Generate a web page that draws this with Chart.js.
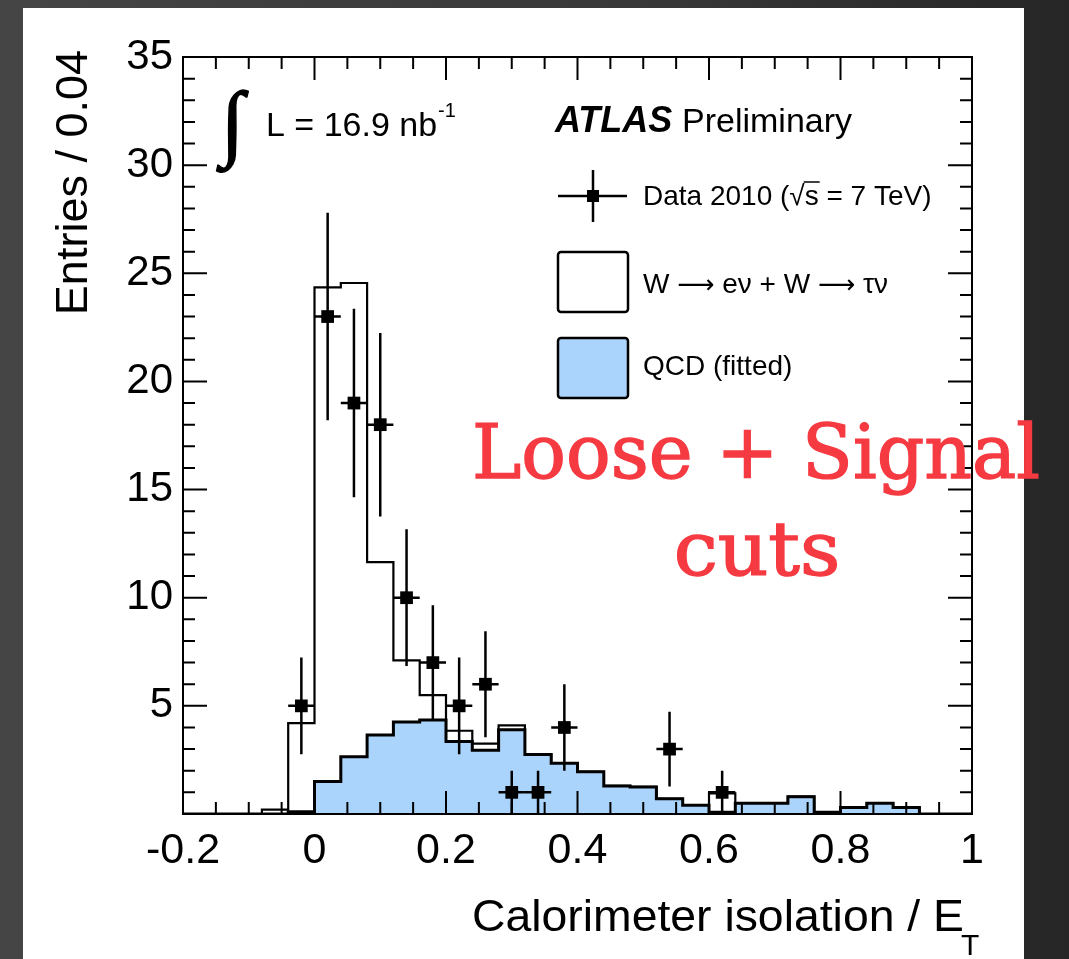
<!DOCTYPE html>
<html>
<head>
<meta charset="utf-8">
<script src="https://cdn.jsdelivr.net/npm/chart.js@4.4.1/dist/chart.umd.min.js"></script>
<style>
  html, body { margin: 0; padding: 0; }
  body {
    width: 1069px; height: 959px; position: relative; overflow: hidden;
    background: linear-gradient(90deg, #454545 0%, #383838 60%, #262626 100%);
  }
  #panel { position: absolute; left: 23px; top: 8px; width: 1001px; height: 951px; background: #fff; }
  #chart { position: absolute; left: 0; top: 0; }
</style>
</head>
<body>
<div id="panel"></div>
<canvas id="chart" width="1069" height="959"></canvas>
<script>
// histogram binning: calorimeter isolation / E_T, bins of 0.04
const binEdges = [-0.2, -0.16, -0.12, -0.08, -0.04, 0, 0.04, 0.08, 0.12, 0.16,
  0.2, 0.24, 0.28, 0.32, 0.36, 0.4, 0.44, 0.48, 0.52, 0.56,
  0.6, 0.64, 0.68, 0.72, 0.76, 0.8, 0.84, 0.88, 0.92, 0.96, 1.0];

// stacked total: W->enu + W->taunu + QCD
const totalMC = [0, 0, 0, 0.2, 4.2, 24.35, 24.55, 11.65, 7.1, 5.5,
  3.85, 3.25, 4.1, 2.75, 2.35, 1.95, 1.3, 1.25, 0.7, 0.4,
  0.95, 0.5, 0.5, 0.8, 0.08, 0.3, 0.5, 0.3, 0, 0];

// QCD (fitted)
const qcdFitted = [0, 0, 0, 0, 0.1, 1.5, 2.65, 3.65, 4.25, 4.35,
  3.35, 2.95, 3.9, 2.75, 2.35, 1.95, 1.3, 1.25, 0.7, 0.4,
  0.08, 0.5, 0.5, 0.8, 0.08, 0.3, 0.5, 0.3, 0, 0];

// Data 2010 (bin centres, entries, stat. error)
const dataX = [-0.02, 0.02, 0.06, 0.1, 0.14, 0.18, 0.22, 0.26, 0.3, 0.34, 0.38, 0.54, 0.62];
const dataY = [5, 23, 19, 18, 10, 7, 5, 6, 1, 1, 4, 3, 1];
const dataErr = [2.24, 4.8, 4.36, 4.24, 3.16, 2.65, 2.24, 2.45, 1, 1, 2, 1.73, 1];

const xTicks = [-0.2, 0, 0.2, 0.4, 0.6, 0.8, 1];
const yTicks = [5, 10, 15, 20, 25, 30, 35];

const halfBin = 0.02;
const qcdBlue = '#aad4fb';
const sans = 'Liberation Sans, Arial, sans-serif';
const arrowFont = '26px DejaVu Sans, sans-serif';

Chart.defaults.font.family = sans;
Chart.defaults.color = '#000';

// points at the left edge of each bin, closed at the last edge
function toSteps(values) {
  return binEdges.map((e, i) => ({ x: e, y: i < values.length ? values[i] : 0 }));
}

// draw text pieces with different fonts one after the other
function drawRuns(ctx, runs, x, y) {
  runs.forEach(([text, font]) => {
    ctx.font = font;
    ctx.fillText(text, x, y);
    x += ctx.measureText(text).width;
  });
}

const atlasDecor = {
  id: 'atlasDecor',
  afterDatasetsDraw(chart) {
    const { ctx, chartArea: a, scales: { x, y } } = chart;
    ctx.save();
    ctx.strokeStyle = '#000';

    // error bars
    ctx.lineWidth = 2.5;
    dataX.forEach((vx, i) => {
      const px = x.getPixelForValue(vx);
      const py = y.getPixelForValue(dataY[i]);
      ctx.beginPath();
      ctx.moveTo(px, y.getPixelForValue(dataY[i] + dataErr[i]));
      ctx.lineTo(px, y.getPixelForValue(Math.max(dataY[i] - dataErr[i], 0)));
      ctx.moveTo(x.getPixelForValue(vx - halfBin), py);
      ctx.lineTo(x.getPixelForValue(vx + halfBin), py);
      ctx.stroke();
    });

    // inward ticks on all four sides (ROOT style)
    ctx.lineWidth = 2;
    ctx.beginPath();
    for (let k = 0; k <= 24; k++) {
      const px = x.getPixelForValue(-0.2 + k * 0.05);
      const len = k % 4 === 0 ? 23 : 12;
      ctx.moveTo(px, a.bottom); ctx.lineTo(px, a.bottom - len);
      ctx.moveTo(px, a.top); ctx.lineTo(px, a.top + len);
    }
    for (let v = 0; v <= 35; v++) {
      const py = y.getPixelForValue(v);
      const len = v % 5 === 0 ? 24 : 12;
      ctx.moveTo(a.left, py); ctx.lineTo(a.left + len, py);
      ctx.moveTo(a.right, py); ctx.lineTo(a.right - len, py);
    }
    ctx.stroke();
    ctx.strokeRect(a.left, a.top, a.right - a.left, a.bottom - a.top);
    ctx.restore();
  },
  afterDraw(chart) {
    const { ctx } = chart;
    ctx.save();
    ctx.fillStyle = '#000';
    ctx.strokeStyle = '#000';
    ctx.textBaseline = 'alphabetic';

    // x axis title, slightly widened like the original
    ctx.save();
    ctx.translate(964, 931);
    ctx.scale(1.03, 1);
    ctx.font = '45px ' + sans;
    ctx.textAlign = 'right';
    ctx.fillText('Calorimeter isolation / E', 0, 0);
    ctx.restore();
    ctx.font = '30px ' + sans;
    ctx.textAlign = 'left';
    ctx.fillText('T', 961, 955);

    // y axis title
    ctx.save();
    ctx.translate(87, 50);
    ctx.rotate(-Math.PI / 2);
    ctx.font = '45px ' + sans;
    ctx.textAlign = 'right';
    ctx.fillText('Entries / 0.04', 0, 0);
    ctx.restore();

    // luminosity
    ctx.textAlign = 'left';
    ctx.font = 'bold 84px Liberation Serif, serif';
    ctx.lineWidth = 1.5;
    ctx.fillText('\u222B', 221, 150);
    ctx.strokeText('\u222B', 221, 150);
    ctx.font = '34px ' + sans;
    ctx.fillText('L = 16.9 nb', 266, 136);
    const lw = ctx.measureText('L = 16.9 nb').width;
    ctx.font = '20px ' + sans;
    ctx.fillText('-1', 266 + lw + 1, 117);

    // ATLAS Preliminary
    ctx.font = 'italic bold 36px ' + sans;
    ctx.fillText('ATLAS', 555, 132);
    ctx.font = '34px ' + sans;
    ctx.fillText('Preliminary', 682, 132);

    // legend
    ctx.lineWidth = 2.5;
    ctx.beginPath();
    ctx.moveTo(558, 196); ctx.lineTo(627, 196);
    ctx.moveTo(593, 170); ctx.lineTo(593, 222);
    ctx.stroke();
    ctx.fillRect(587, 190, 12, 12);
    ctx.font = '28px ' + sans;
    const pre = 'Data 2010 (\u221A';
    ctx.fillText(pre + 's = 7 TeV)', 643, 205);
    const sx = 643 + ctx.measureText(pre).width;
    const sw = ctx.measureText('s').width;
    ctx.lineWidth = 1.5;
    ctx.beginPath();
    ctx.moveTo(sx - 1, 182); ctx.lineTo(sx + sw + 1, 182);
    ctx.stroke();

    ctx.lineWidth = 2.5;
    ctx.beginPath();
    ctx.roundRect(558, 252, 70, 60, 3);
    ctx.fillStyle = '#fff';
    ctx.fill();
    ctx.stroke();
    ctx.beginPath();
    ctx.roundRect(558, 338, 70, 60, 3);
    ctx.fillStyle = qcdBlue;
    ctx.fill();
    ctx.stroke();
    ctx.fillStyle = '#000';
    const lf = '28px ' + sans;
    drawRuns(ctx, [['W ', lf], ['\u27F6', arrowFont], [' e\u03BD + W ', lf],
      ['\u27F6', arrowFont], [' \u03C4\u03BD', lf]], 643, 293);
    ctx.font = lf;
    ctx.fillText('QCD (fitted)', 643, 375);

    // red annotation
    ctx.fillStyle = '#f63a42';
    ctx.strokeStyle = '#f63a42';
    ctx.lineWidth = 1.4;
    ctx.textAlign = 'center';
    ctx.font = '74px DejaVu Serif, serif';
    const line1 = 'Loose + Signal';
    const scale1 = 568 / ctx.measureText(line1).width;
    ctx.save();
    ctx.translate(756, 478);
    ctx.scale(scale1, 1);
    ctx.fillText(line1, 0, 0);
    ctx.strokeText(line1, 0, 0);
    ctx.restore();
    ctx.save();
    ctx.translate(757, 575);
    ctx.scale(scale1 * 1.06, 1);
    ctx.fillText('cuts', 0, 0);
    ctx.strokeText('cuts', 0, 0);
    ctx.restore();

    ctx.restore();
  }
};

new Chart(document.getElementById('chart'), {
  data: {
    datasets: [
      {
        type: 'scatter',
        label: 'Data 2010',
        data: dataX.map((vx, i) => ({ x: vx, y: dataY[i] })),
        pointStyle: 'rect',
        pointRadius: 9,
        backgroundColor: '#000',
        borderWidth: 0
      },
      {
        type: 'line',
        label: 'QCD (fitted)',
        data: toSteps(qcdFitted),
        stepped: true,
        fill: 'origin',
        backgroundColor: qcdBlue,
        borderColor: '#000',
        borderWidth: 3,
        pointRadius: 0
      },
      {
        type: 'line',
        label: 'W -> ev + W -> tv',
        data: toSteps(totalMC),
        stepped: true,
        fill: false,
        borderColor: '#000',
        borderWidth: 2.2,
        pointRadius: 0
      }
    ]
  },
  options: {
    responsive: false,
    animation: false,
    devicePixelRatio: 1,
    layout: { padding: { left: 0, top: 57, right: 97, bottom: 0 } },
    plugins: { legend: { display: false }, tooltip: { enabled: false } },
    scales: {
      x: {
        type: 'linear',
        min: -0.2,
        max: 1.0,
        grid: { display: false, drawTicks: false },
        border: { display: false },
        afterBuildTicks: (s) => { s.ticks = xTicks.map(v => ({ value: v })); },
        afterFit: (s) => { s.height = 145; },
        ticks: {
          padding: 11,
          font: { size: 43 },
          callback: (v) => Number(v.toFixed(1)).toString()
        }
      },
      y: {
        type: 'linear',
        min: 0,
        max: 35,
        grid: { display: false, drawTicks: false },
        border: { display: false },
        afterBuildTicks: (s) => { s.ticks = yTicks.map(v => ({ value: v })); },
        afterFit: (s) => { s.width = 183; },
        ticks: {
          padding: 10,
          font: { size: 42 },
          callback: (v) => String(v)
        }
      }
    }
  },
  plugins: [atlasDecor]
});
</script>
</body>
</html>
